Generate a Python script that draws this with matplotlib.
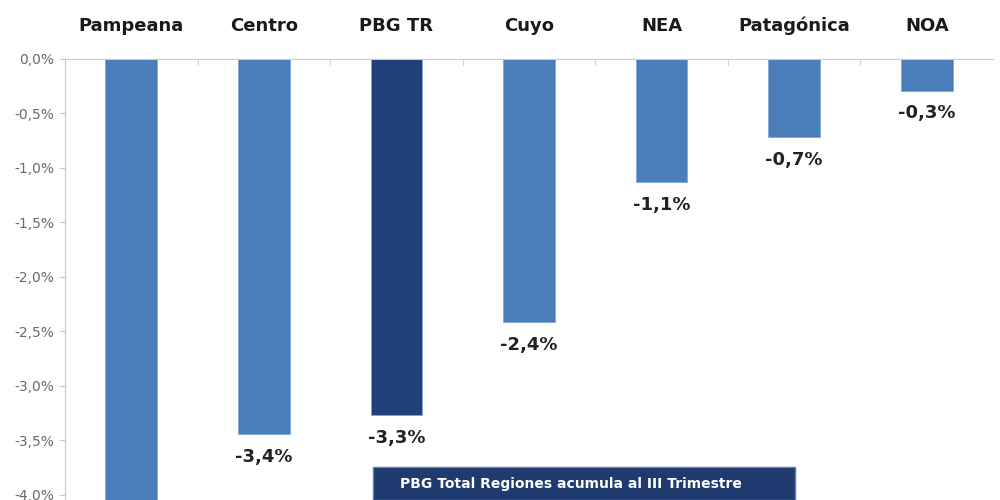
import matplotlib.pyplot as plt
from matplotlib.patches import Rectangle

# Variación del PBG por región (%)
regiones = ['Pampeana', 'Centro', 'PBG TR', 'Cuyo', 'NEA', 'Patagónica', 'NOA']
variacion = [-4.4, -3.44, -3.27, -2.41, -1.13, -0.72, -0.29]
etiquetas = ['-4,4%', '-3,4%', '-3,3%', '-2,4%', '-1,1%', '-0,7%', '-0,3%']
yticks = [0, -0.5, -1.0, -1.5, -2.0, -2.5, -3.0, -3.5, -4.0]
yticklabels = ['0,0%', '-0,5%', '-1,0%', '-1,5%', '-2,0%', '-2,5%', '-3,0%', '-3,5%', '-4,0%']

azul = '#4a7ebb'
azul_oscuro = '#213f78'
colores = [azul_oscuro if r == 'PBG TR' else azul for r in regiones]

fig = plt.figure(figsize=(10, 5), dpi=100)
ax = fig.add_axes([0.065, 0.0, 0.928, 0.882])

x = range(len(regiones))
ax.bar(x, variacion, width=0.39, color=colores, edgecolor='#7fa6d6', linewidth=0.6)

ax.set_xlim(-0.5, len(regiones) - 0.5)
ax.set_ylim(-4.046, 0)

# categorias arriba
ax.xaxis.tick_top()
ax.set_xticks(list(x))
ax.set_xticklabels(regiones, fontsize=13, fontweight='bold', color='#1a1a1a')
ax.tick_params(axis='x', which='major', length=0, pad=17)
ax.set_xticks([i + 0.5 for i in range(len(regiones) - 1)], minor=True)
ax.tick_params(axis='x', which='minor', direction='in', length=4, color='#c8c8c8')

ax.set_yticks(yticks)
ax.set_yticklabels(yticklabels, fontsize=10, color='#6a6a6a')
ax.tick_params(axis='y', length=4, color='#c8c8c8')

for s in ['bottom', 'right']:
    ax.spines[s].set_visible(False)
ax.spines['top'].set_color('#c8c8c8')
ax.spines['left'].set_color('#c8c8c8')

for i, (v, t) in enumerate(zip(variacion, etiquetas)):
    ax.annotate(t, (i, v), xytext=(0, -10), textcoords='offset points',
                ha='center', va='top', fontsize=13, fontweight='bold', color='#222222')

# recuadro inferior
fig.patches.append(Rectangle((0.373, 0.0), 0.422, 0.066, transform=fig.transFigure,
                             facecolor='#1f3a6e', edgecolor='#5b7fb5', linewidth=1))
fig.text(0.40, 0.032, 'PBG Total Regiones acumula al III Trimestre', fontsize=10,
         fontweight='bold', color='white', va='center')

fig.savefig('out.png', dpi=100)
